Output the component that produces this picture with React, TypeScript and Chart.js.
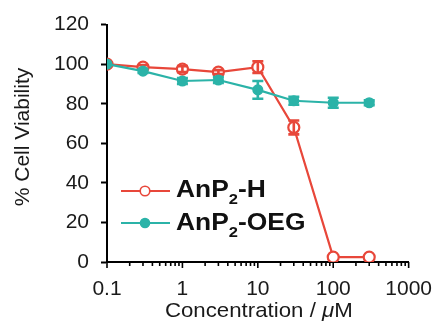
import React, { useEffect, useRef } from 'react';
import { Chart, registerables } from 'chart.js';

Chart.register(...registerables);

// ---- data ----
const concentrations = [0.1, 0.3, 1, 3, 10, 30, 100, 300];
const viabilityH = [100, 98.5, 97.5, 96, 98.5, 68, 2.5, 2.5];
const errorH = [0, 1, 1.5, 1, 3, 3.5, 0, 0];
const viabilityOEG = [100, 96.5, 91.5, 92, 87, 81.5, 80.5, 80.5];
const errorOEG = [0, 1, 1.5, 1.5, 4.5, 2, 2.5, 1.2];
const xTickLabels = ['0.1', '1', '10', '100', '1000'];
const yMin = 0;
const yMax = 120;
const yStep = 20;
const legendH = ['AnP', '2', '-H'];
const legendOEG = ['AnP', '2', '-OEG'];

const RED = '#E8473A';
const TEAL = '#2BB3A8';
const FONT = "'Liberation Sans', Arial, sans-serif";

const errorBarPlugin = {
  id: 'errorBars',
  afterDatasetDraw(chart: any, args: any) {
    const ds = chart.data.datasets[args.index];
    const errs: number[] = ds.errors;
    if (!errs) return;
    const ctx = chart.ctx;
    const ys = chart.scales.y;
    ctx.save();
    ctx.strokeStyle = ds.borderColor;
    ctx.lineWidth = 2.6;
    args.meta.data.forEach((pt: any, i: number) => {
      const e = errs[i];
      if (!e) return;
      const v = ds.data[i].y;
      const x = pt.x;
      const yt = ys.getPixelForValue(v + e);
      const yb = ys.getPixelForValue(v - e);
      ctx.beginPath();
      ctx.moveTo(x, yt);
      ctx.lineTo(x, yb);
      ctx.moveTo(x - 5.5, yt);
      ctx.lineTo(x + 5.5, yt);
      ctx.moveTo(x - 5.5, yb);
      ctx.lineTo(x + 5.5, yb);
      ctx.stroke();
    });
    ctx.restore();
  },
};

const decorPlugin = {
  id: 'decor',
  afterDraw(chart: any) {
    const ctx = chart.ctx;
    const xs = chart.scales.x;
    const area = chart.chartArea;
    ctx.save();
    // x ticks (major + minor)
    ctx.strokeStyle = '#000';
    ctx.lineWidth = 1.6;
    for (let exp = -1; exp <= 3; exp++) {
      for (let m = 1; m <= 9; m++) {
        const v = m * Math.pow(10, exp);
        if (v > 1000.0001) break;
        const px = xs.getPixelForValue(v);
        const len = m === 1 ? 6 : 4;
        ctx.beginPath();
        ctx.moveTo(px, area.bottom);
        ctx.lineTo(px, area.bottom + len);
        ctx.stroke();
      }
    }
    // x title
    ctx.fillStyle = '#1a1a1a';
    ctx.textBaseline = 'alphabetic';
    const regular = `21px ${FONT}`;
    const italic = `italic 21px ${FONT}`;
    const p1 = 'Concentration / ';
    const p2 = 'μ';
    const p3 = 'M';
    const sx = 1.06;
    ctx.font = regular;
    const w1 = ctx.measureText(p1).width;
    const w3 = ctx.measureText(p3).width;
    ctx.font = italic;
    const w2 = ctx.measureText(p2).width;
    const total = (w1 + w2 + w3) * sx;
    const cx = (area.left + area.right) / 2 + 1;
    ctx.save();
    ctx.translate(cx - total / 2, 317);
    ctx.scale(sx, 1);
    ctx.font = regular;
    ctx.textAlign = 'left';
    ctx.fillText(p1, 0, 0);
    ctx.font = italic;
    ctx.fillText(p2, w1, 0);
    ctx.font = regular;
    ctx.fillText(p3, w1 + w2, 0);
    ctx.restore();
    // y title
    ctx.save();
    ctx.translate(23, 137);
    ctx.rotate(-Math.PI / 2);
    ctx.textAlign = 'center';
    ctx.textBaseline = 'middle';
    ctx.font = `21px ${FONT}`;
    ctx.fillText('% Cell Viability', 0, 0);
    ctx.restore();
    // legend
    const entries = [
      { parts: legendH, color: RED, open: true, y: 191, base: 197 },
      { parts: legendOEG, color: TEAL, open: false, y: 223, base: 230 },
    ];
    entries.forEach((en) => {
      ctx.strokeStyle = en.color;
      ctx.lineWidth = 2.2;
      ctx.beginPath();
      ctx.moveTo(121, en.y);
      ctx.lineTo(170, en.y);
      ctx.stroke();
      ctx.beginPath();
      ctx.arc(145, en.y, en.open ? 4.8 : 4.5, 0, Math.PI * 2);
      ctx.fillStyle = en.open ? '#fff' : en.color;
      ctx.fill();
      ctx.lineWidth = 1.6;
      ctx.stroke();
      ctx.fillStyle = '#111';
      ctx.textAlign = 'left';
      ctx.textBaseline = 'alphabetic';
      const big = `bold 24px ${FONT}`;
      const small = `bold 15px ${FONT}`;
      ctx.save();
      ctx.translate(176, en.base);
      ctx.scale(1.1, 1);
      let tx = 0;
      ctx.font = big;
      ctx.fillText(en.parts[0], tx, 0);
      tx += ctx.measureText(en.parts[0]).width;
      ctx.font = small;
      ctx.fillText(en.parts[1], tx, 7);
      tx += ctx.measureText(en.parts[1]).width;
      ctx.font = big;
      ctx.fillText(en.parts[2], tx, 0);
      ctx.restore();
    });
    ctx.restore();
  },
};

export default function App() {
  const ref = useRef<HTMLCanvasElement | null>(null);
  useEffect(() => {
    if (!ref.current) return;
    const chart = new Chart(ref.current, {
      type: 'line',
      data: {
        datasets: [
          {
            label: 'AnP2-OEG',
            data: concentrations.map((c, i) => ({ x: c, y: viabilityOEG[i] })),
            borderColor: TEAL,
            backgroundColor: TEAL,
            borderWidth: 2.2,
            pointRadius: 4.8,
            pointBorderWidth: 1.5,
            pointBackgroundColor: TEAL,
            pointBorderColor: TEAL,
            errors: errorOEG,
          } as any,
          {
            label: 'AnP2-H',
            data: concentrations.map((c, i) => ({ x: c, y: viabilityH[i] })),
            borderColor: RED,
            backgroundColor: '#fff',
            borderWidth: 2.2,
            pointRadius: 5.5,
            pointBorderWidth: 2.2,
            pointBackgroundColor: '#fff',
            pointBorderColor: RED,
            errors: errorH,
          } as any,
        ],
      },
      options: {
        animation: false,
        responsive: true,
        maintainAspectRatio: false,
        layout: { padding: { left: 0, top: 24, right: 26, bottom: 0 } },
        plugins: { legend: { display: false }, tooltip: { enabled: false } },
        scales: {
          x: {
            type: 'logarithmic',
            min: 0.1,
            max: 1000,
            afterFit: (s: any) => {
              s.height = 71;
            },
            border: { color: '#000', width: 2 },
            grid: {
              drawOnChartArea: false,
              drawTicks: true,
              tickLength: 6,
              tickColor: 'rgba(0,0,0,0)',
            },
            ticks: {
              autoSkip: false,
              maxRotation: 0,
              padding: 9,
              color: '#1a1a1a',
              font: { family: FONT, size: 21 },
              callback: (value: any) => {
                const v = Number(value);
                const l = Math.log10(v);
                if (Math.abs(l - Math.round(l)) < 1e-6) {
                  const idx = Math.round(l) + 1;
                  return xTickLabels[idx] ?? '';
                }
                return '';
              },
            },
          } as any,
          y: {
            min: yMin,
            max: yMax,
            afterFit: (s: any) => {
              s.width = 107;
            },
            border: { color: '#000', width: 2 },
            grid: {
              drawOnChartArea: false,
              drawTicks: true,
              tickLength: 6,
              tickWidth: 2,
              tickColor: '#000',
            },
            ticks: {
              stepSize: yStep,
              padding: 12,
              color: '#1a1a1a',
              font: { family: FONT, size: 21 },
            },
          },
        },
      },
      plugins: [errorBarPlugin, decorPlugin],
    });
    return () => chart.destroy();
  }, []);
  return (
    <div style={{ position: 'fixed', left: 0, top: 0, width: 441, height: 333, background: '#fff' }}>
      <canvas ref={ref} />
    </div>
  );
}
